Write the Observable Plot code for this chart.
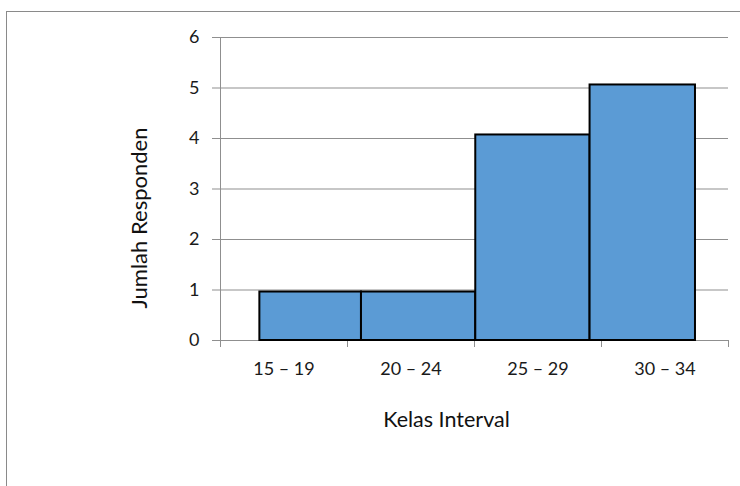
<!DOCTYPE html>
<html>
<head>
<meta charset="utf-8">
<script src="https://cdn.jsdelivr.net/npm/d3@7"></script>
<script src="https://cdn.jsdelivr.net/npm/@observablehq/plot@0.6"></script>
<style>
  html, body { margin: 0; padding: 0; background: #fff; overflow: hidden; }
  #wrap { position: relative; width: 740px; height: 486px; }
  #frame { position: absolute; left: 6px; top: 11px; width: 740px; height: 480px;
           border-left: 1px solid #8a8a8a; border-top: 1px solid #8a8a8a; box-sizing: border-box; pointer-events: none; }
  svg { display: block; }
</style>
</head>
<body>
<div id="wrap"><div id="frame"></div></div>
<script>
// Data
const categories = ["15 – 19", "20 – 24", "25 – 29", "30 – 34"];
const counts = [0.96, 0.96, 4.07, 5.06];          // Jumlah Responden
const barStart = [0.31, 1.11, 2.01, 2.91];        // bar left edges (category units, as drawn)
const barEnd   = [1.11, 2.01, 2.91, 3.74];        // bar right edges (category units, as drawn)
const yTicks = [0, 1, 2, 3, 4, 5, 6];
const xTitle = "Kelas Interval";
const yTitle = "Jumlah Responden";

const bars = categories.map((c, i) => ({category: c, value: counts[i], x1: barStart[i], x2: barEnd[i]}));
const boundaries = d3.range(categories.length + 1);
const mids = categories.map((c, i) => i + 0.5);

const grey = "#8f8f8f";
const font = "Lato, 'Open Sans', sans-serif";

const chart = Plot.plot({
  width: 740,
  height: 486,
  marginLeft: 220,
  marginRight: 12,
  marginTop: 37,
  marginBottom: 146,
  style: {fontFamily: font, background: "transparent", color: "#1a1a1a"},
  x: {domain: [0, categories.length], axis: null},
  y: {domain: [0, 6], axis: null},
  marks: [
    Plot.ruleY(yTicks, {stroke: grey, strokeWidth: 1}),
    Plot.axisY({ticks: yTicks, tickSize: 8, tickPadding: 13, stroke: grey, fill: "#1a1a1a", fontSize: 18, label: null, tickFormat: d3.format("d")}),
    Plot.ruleX([0], {stroke: grey, strokeWidth: 1}),
    Plot.axisX({ticks: boundaries, tickSize: 7, tickFormat: () => "", stroke: grey, label: null}),
    Plot.axisX({ticks: mids, tickSize: 0, tickPadding: 22, fontSize: 18, fill: "#1a1a1a", label: null,
                tickFormat: d => categories[Math.floor(d)]}),
    Plot.rect(bars, {x1: "x1", x2: "x2", y1: 0, y2: "value", fill: "#5B9BD5", stroke: "#000", strokeWidth: 2}),
    Plot.text([xTitle], {frameAnchor: "bottom", dx: -28, dy: 86, fontSize: 21.5, fill: "#111", textAnchor: "middle"}),
    Plot.text([yTitle], {frameAnchor: "left", dx: -81, dy: 29, rotate: -90, fontSize: 22, fill: "#111", textAnchor: "middle"})
  ]
});
document.getElementById("wrap").prepend(chart);
</script>
</body>
</html>
